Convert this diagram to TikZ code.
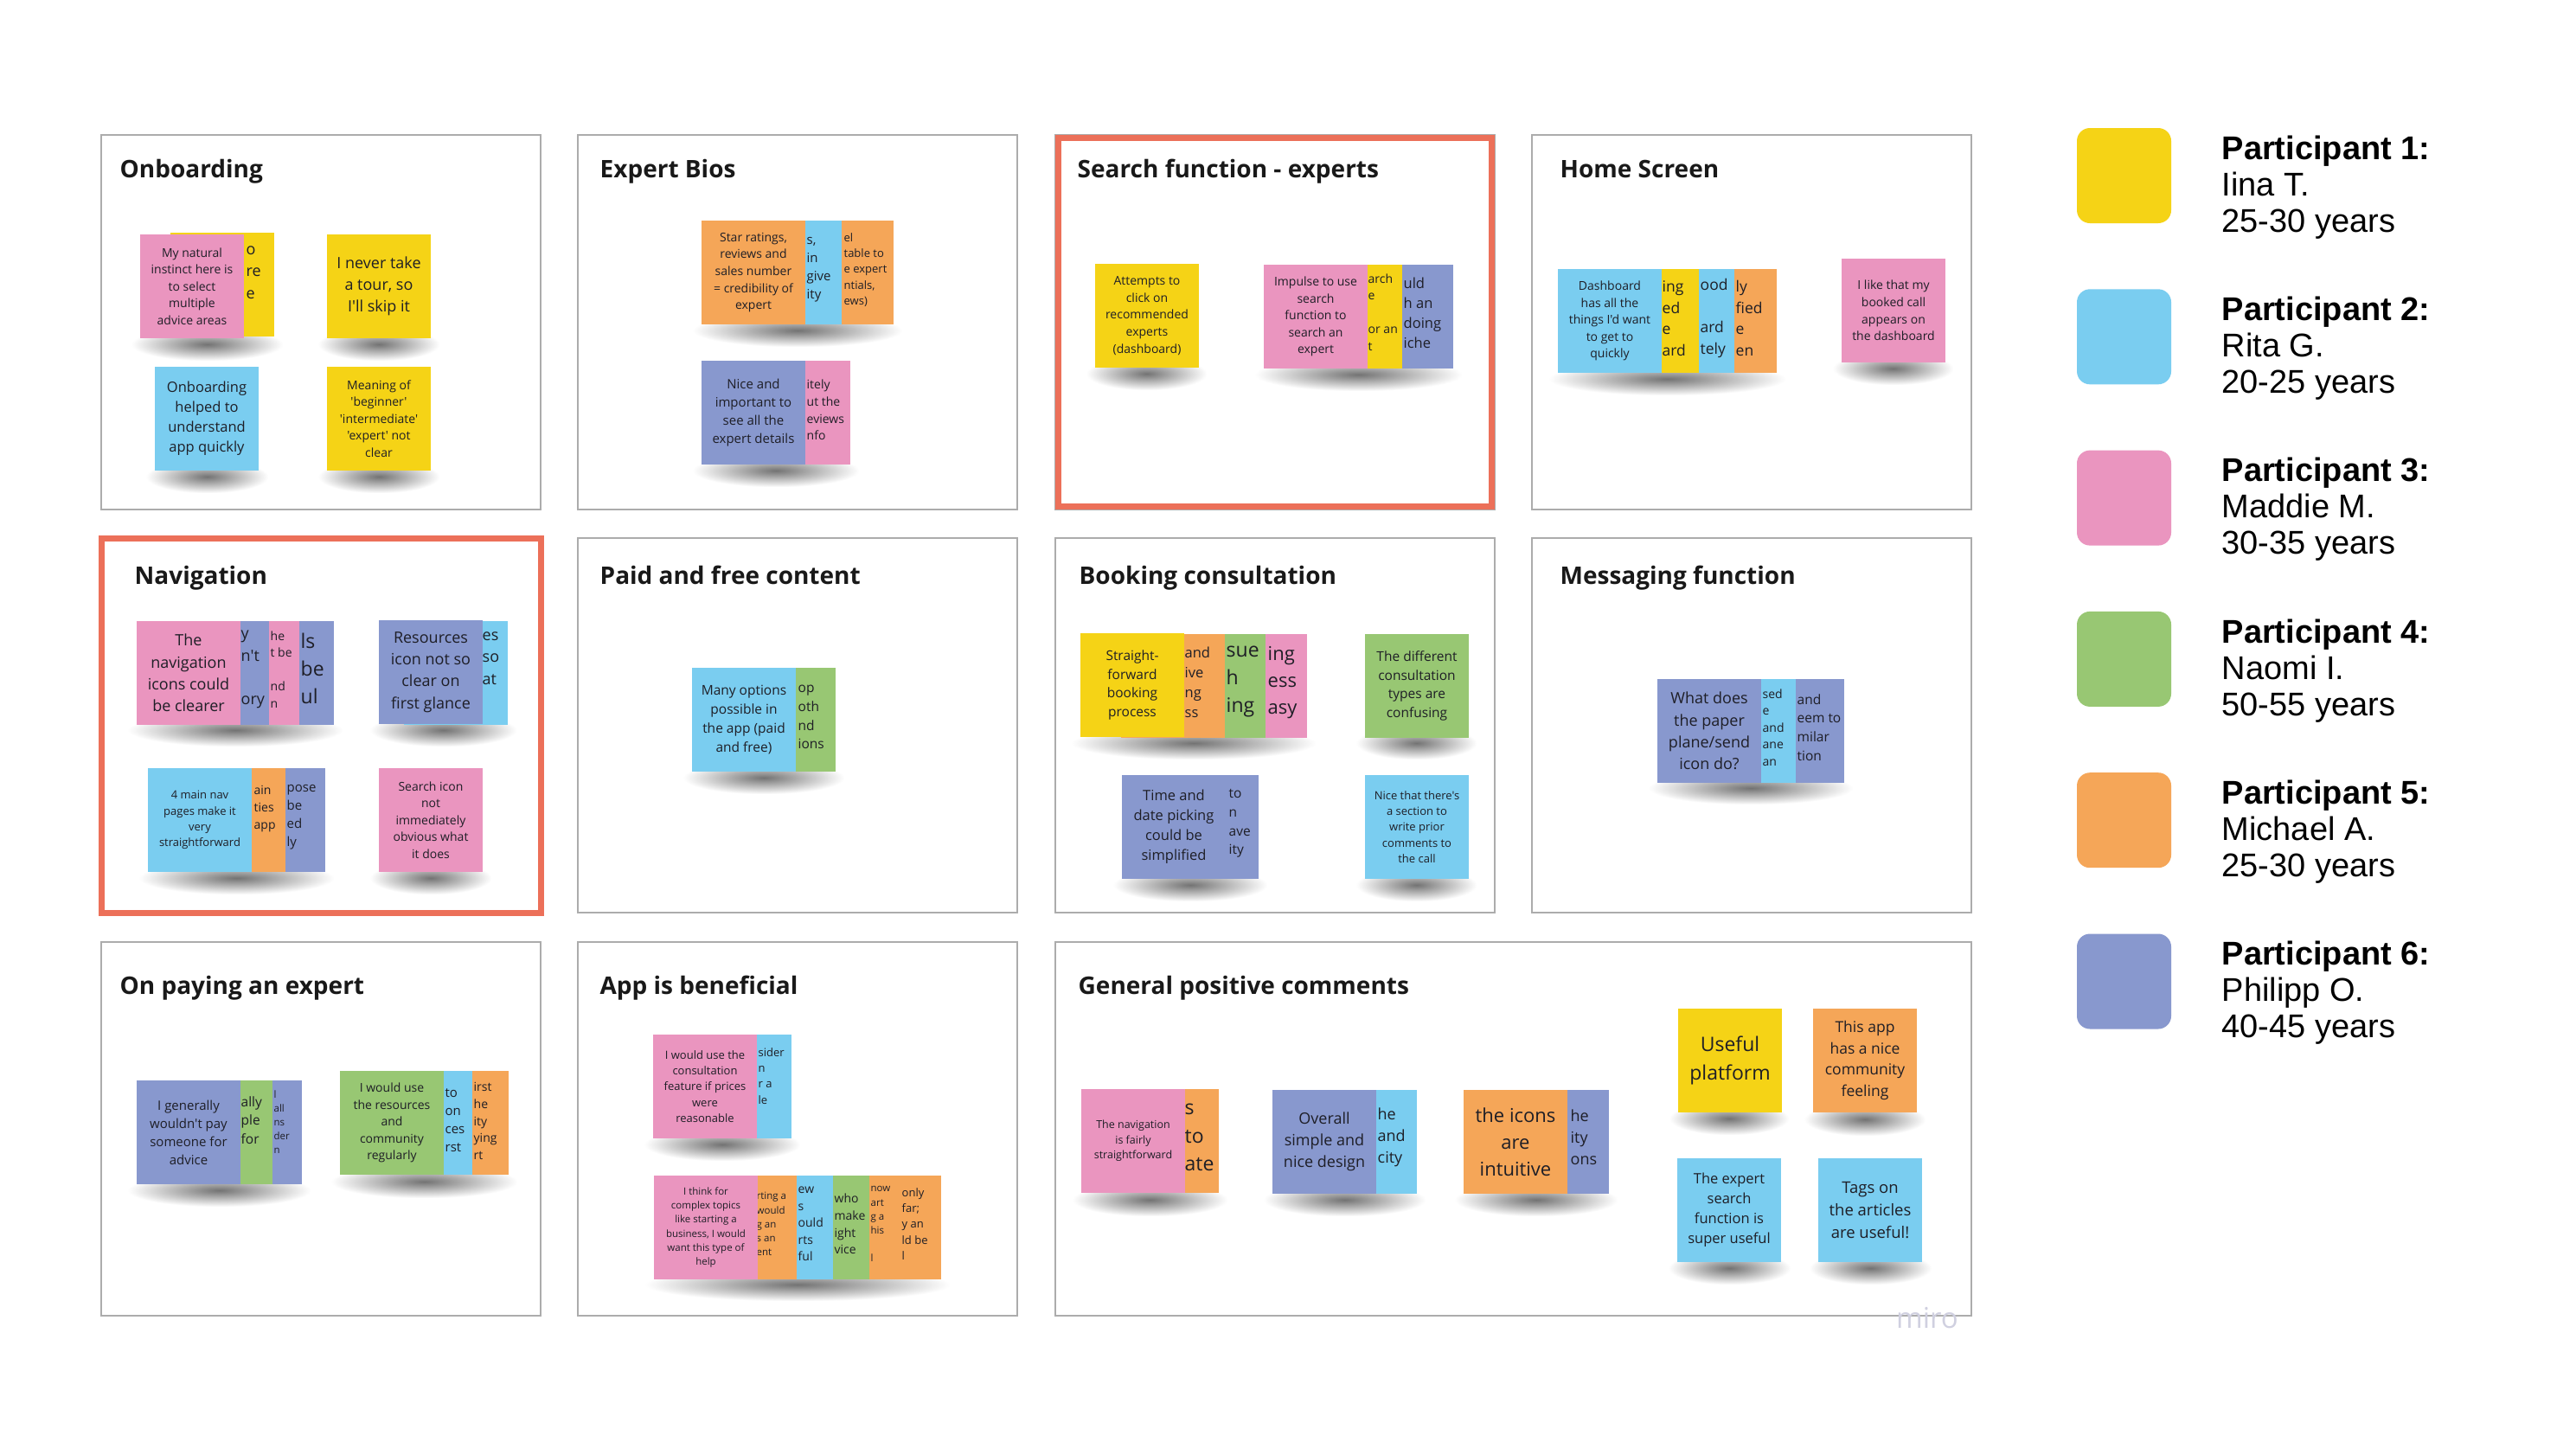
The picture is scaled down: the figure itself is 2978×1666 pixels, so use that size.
\documentclass[tikz,border=0pt]{standalone}
\usepackage{fontspec}
\setmainfont{Open Sans}[Ligatures=TeXOff]
\newfontfamily\legfont{Liberation Sans}
\usetikzlibrary{fadings}
\definecolor{cyel}{RGB}{245,211,22}
\definecolor{cblu}{RGB}{122,205,240}
\definecolor{cpnk}{RGB}{234,149,191}
\definecolor{cgrn}{RGB}{152,199,115}
\definecolor{corg}{RGB}{245,166,88}
\definecolor{cpur}{RGB}{136,152,206}
\definecolor{cred}{RGB}{236,112,89}
\definecolor{cgry}{RGB}{172,172,172}
\definecolor{ctxt}{RGB}{30,30,38}
\definecolor{cmiro}{RGB}{208,208,224}
\tikzfading[name=shfade, inner color=transparent!0, outer color=transparent!100]
\newcommand\fsz[1]{\pgfmathsetmacro\fszA{#1*0.3}\pgfmathsetmacro\fszB{#1*0.42}\fontsize{\fszA}{\fszB}\selectfont}
\tikzset{
  panel/.style={draw=cgry, line width=0.6pt},
  hilite/.style={draw=cred, line width=2.1pt},
  ptitle/.style={anchor=base west, inner sep=0pt, font=\bfseries\fsz{28}, text=black!90},
  note/.style={rectangle, inner sep=0pt, minimum width=36pt, minimum height=36pt, align=center, text=ctxt},
  frag/.style={inner sep=0pt, anchor=west, align=left, text=ctxt},
  nshadow/.style={fill=black, opacity=0.55, path fading=shfade},
  swatch/.style={rectangle, rounded corners=4.5pt, minimum width=32.7pt, minimum height=33pt, inner sep=0pt},
  legtext/.style={anchor=west, inner sep=0pt, align=left, text=black, font=\legfont\fontsize{11.4}{12.6}\selectfont},
  wmark/.style={inner sep=0pt, text=cmiro, font=\fsz{33}}
}
\newcommand\stk[6]{\node[note,fill=#2,font=\fsz{#5}] (#1) at ({#3+60},{#4+60}) {#6};}
\newcommand\frg[5]{\node[frag,font=\fsz{#4}] (#1) at (#2,#3) {#5};}
\newcommand\shd[3]{\fill[nshadow] ({#1-10},{#3-12}) rectangle ({#2+10},{#3+26});}
\begin{document}
\begin{tikzpicture}[x=0.3pt,y=-0.3pt]
\useasboundingbox (0,0) rectangle (2978,1666);
\fill[white] (0,0) rectangle (2978,1666);
% panels
\draw[panel] (117,156) rectangle (625,589);
\draw[panel] (668,156) rectangle (1176,589);
\draw[panel] (1220,156) rectangle (1728,589);
\draw[panel] (1771,156) rectangle (2279,589);
\draw[panel] (117,622) rectangle (625,1055);
\draw[panel] (668,622) rectangle (1176,1055);
\draw[panel] (1220,622) rectangle (1728,1055);
\draw[panel] (1771,622) rectangle (2279,1055);
\draw[panel] (117,1089) rectangle (625,1521);
\draw[panel] (668,1089) rectangle (1176,1521);
\draw[panel] (1220,1089) rectangle (2279,1521);
\draw[hilite] (1223.5,159.5) rectangle (1724.5,585.5);
\draw[hilite] (117,622) rectangle (625,1055);
% titles
\node[ptitle] (t1) at (138,205) {Onboarding};
\node[ptitle] (t2) at (693,205) {Expert Bios};
\node[ptitle] (t3) at (1245,205) {Search function - experts};
\node[ptitle] (t4) at (1803,205) {Home Screen};
\node[ptitle] (t5) at (155,675) {Navigation};
\node[ptitle] (t6) at (693,675) {Paid and free content};
\node[ptitle] (t7) at (1247,675) {Booking consultation};
\node[ptitle] (t8) at (1803,675) {Messaging function};
\node[ptitle] (t9) at (138,1149) {On paying an expert};
\node[ptitle] (t10) at (693,1149) {App is beneficial};
\node[ptitle] (t11) at (1246,1149) {General positive comments};
% shadows
\shd{162}{317}{391}\shd{378}{498}{391}\shd{179}{300}{544}\shd{378}{498}{544}
\shd{811}{1033}{375}\shd{811}{983}{537}
\shd{1266}{1385}{425}\shd{1461}{1680}{426}
\shd{1801}{2054}{431}\shd{2129}{2248}{419}
\shd{158}{386}{837}\shd{438}{587}{837}\shd{171}{376}{1008}\shd{438}{558}{1008}
\shd{800}{966}{892}
\shd{1249}{1511}{852}\shd{1578}{1697}{852}\shd{1297}{1455}{1016}\shd{1578}{1697}{1016}
\shd{1916}{2132}{904}
\shd{158}{349}{1369}\shd{393}{588}{1359}
\shd{755}{915}{1316}\shd{756}{1088}{1478}
\shd{1250}{1409}{1380}\shd{1471}{1638}{1380}\shd{1692}{1860}{1380}
\shd{1940}{2058}{1286}\shd{2096}{2216}{1287}\shd{1939}{2060}{1459}\shd{2102}{2223}{1459}
% Onboarding
\stk{o1b}{cyel}{197}{269}{18}{}
\frg{o1bt}{284}{315}{18}{o\\re\\e}
\stk{o1}{cpnk}{162}{271}{14}{My natural\\instinct here is\\to select\\multiple\\advice areas}
\stk{o2}{cyel}{378}{271}{18}{I never take\\a tour, so\\I'll skip it}
\stk{o3}{cblu}{179}{424}{16.5}{Onboarding\\helped to\\understand\\app quickly}
\stk{o4}{cyel}{378}{424}{14}{Meaning of\\'beginner'\\'intermediate'\\'expert' not\\clear}
% Expert Bios
\stk{e1c}{corg}{913}{255}{13}{}
\frg{e1ct}{975}{312}{13}{el\\table to\\e expert\\ntials,\\ews)}
\stk{e1b}{cblu}{853}{255}{15}{}
\frg{e1bt}{932}{312}{15}{s,\\in\\give\\ity}
\stk{e1}{corg}{811}{255}{14}{Star ratings,\\reviews and\\sales number\\= credibility of\\expert}
\stk{e2b}{cpnk}{863}{417}{14}{}
\frg{e2bt}{932}{474}{14}{itely\\ut the\\eviews\\nfo}
\stk{e2}{cpur}{811}{417}{15}{Nice and\\important to\\see all the\\expert details}
% Search
\stk{s1}{cyel}{1266}{305}{14}{Attempts to\\click on\\recommended\\experts\\(dashboard)}
\stk{s2c}{cpur}{1560}{306}{16.5}{}
\frg{s2ct}{1622}{362}{16.5}{uld\\h an\\doing\\iche}
\stk{s2b}{cyel}{1501}{306}{14}{}
\frg{s2bt}{1581}{361}{14}{arch\\e\\~\\or an\\t}
\stk{s2}{cpnk}{1461}{306}{14}{Impulse to use\\search\\function to\\search an\\expert}
% Home
\stk{h1d}{corg}{1934}{311}{17.5}{}
\frg{h1dt}{2006}{368}{17.5}{ly\\fied\\e\\en}
\stk{h1c}{cblu}{1885}{311}{17.5}{}
\frg{h1ct}{1965}{368}{17.5}{ood\\~\\ard\\tely}
\stk{h1b}{cyel}{1844}{311}{17.5}{}
\frg{h1bt}{1921}{368}{17.5}{ing\\ed\\e\\ard}
\stk{h1}{cblu}{1801}{311}{14}{Dashboard\\has all the\\things I'd want\\to get to\\quickly}
\stk{h2}{cpnk}{2129}{299}{14}{I like that my\\booked call\\appears on\\the dashboard}
% Navigation
\stk{n1d}{cpur}{266}{718}{23}{}
\frg{n1dt}{347}{773}{23}{ls\\be\\ul}
\stk{n1c}{cpnk}{226}{718}{14}{}
\frg{n1ct}{312}{774}{14}{he\\t be\\~\\nd\\n}
\stk{n1b}{cpur}{191}{718}{18}{}
\frg{n1bt}{278}{774}{18}{y\\n't\\~\\ory}
\stk{n1}{cpnk}{158}{718}{18}{The\\navigation\\icons could\\be clearer}
\stk{n2b}{cblu}{467}{718}{18}{}
\frg{n2bt}{557}{761}{18}{es\\so\\at}
\stk{n2}{cpur}{438}{717}{18}{Resources\\icon not so\\clear on\\first glance}
\stk{n3c}{cpur}{256}{888}{15}{}
\frg{n3ct}{331}{945}{15}{pose\\be\\ed\\ly}
\stk{n3b}{corg}{210}{888}{14}{}
\frg{n3bt}{293}{935}{14}{ain\\ties\\app}
\stk{n3}{cblu}{171}{888}{13}{4 main nav\\pages make it\\very\\straightforward}
\stk{n4}{cpnk}{438}{888}{14}{Search icon\\not\\immediately\\obvious what\\it does}
% Paid and free
\stk{p1b}{cgrn}{846}{772}{15.5}{}
\frg{p1bt}{922}{829}{15.5}{op\\oth\\nd\\ions}
\stk{p1}{cblu}{800}{772}{15.5}{Many options\\possible in\\the app (paid\\and free)}
% Booking
\stk{b1d}{cpnk}{1391}{733}{22}{}
\frg{b1dt}{1465}{789}{22}{ing\\ess\\asy}
\stk{b1c}{cgrn}{1343}{733}{23}{}
\frg{b1ct}{1417}{788}{23}{sue\\h\\ing}
\stk{b1b}{corg}{1296}{733}{16.5}{}
\frg{b1bt}{1369}{789}{16.5}{and\\ive\\ng\\ss}
\stk{b1}{cyel}{1249}{732}{15.5}{Straight-\\forward\\booking\\process}
\stk{b2}{cgrn}{1578}{733}{15.5}{The different\\consultation\\types are\\confusing}
\stk{b3b}{cpur}{1335}{896}{15.5}{}
\frg{b3bt}{1420}{952}{15.5}{to\\n\\ave\\ity}
\stk{b3}{cpur}{1297}{896}{16.5}{Time and\\date picking\\could be\\simplified}
\stk{b4}{cblu}{1578}{896}{13}{Nice that there's\\a section to\\write prior\\comments to\\the call}
% Messaging
\stk{m1c}{cpur}{2012}{785}{15.5}{}
\frg{m1ct}{2077}{841}{15.5}{and\\eem to\\milar\\tion}
\stk{m1b}{cblu}{1956}{785}{14}{}
\frg{m1bt}{2037}{841}{14}{sed\\e\\and\\ane\\an}
\stk{m1}{cpur}{1916}{785}{18}{What does\\the paper\\plane/send\\icon do?}
% On paying
\stk{y1c}{cpur}{229}{1249}{11.5}{}
\frg{y1ct}{316}{1297}{11.5}{l\\all\\ns\\der\\n}
\stk{y1b}{cgrn}{195}{1249}{15.5}{}
\frg{y1bt}{278}{1295}{15.5}{ally\\ple\\for}
\stk{y1}{cpur}{158}{1249}{15}{I generally\\wouldn't pay\\someone for\\advice}
\stk{y2c}{corg}{468}{1238}{14}{}
\frg{y2ct}{547}{1296}{14}{irst\\he\\ity\\ying\\rt}
\stk{y2b}{cblu}{426}{1238}{15}{}
\frg{y2bt}{514}{1295}{15}{to\\on\\ces\\rst}
\stk{y2}{cgrn}{393}{1238}{14}{I would use\\the resources\\and\\community\\regularly}
% App is beneficial
\stk{a1b}{cblu}{795}{1196}{13}{}
\frg{a1bt}{876}{1244}{13}{sider\\n\\r a\\le}
\stk{a1}{cpnk}{755}{1196}{13}{I would use the\\consultation\\feature if prices\\were\\reasonable}
\stk{a2f}{corg}{968}{1359}{13}{}
\frg{a2ft}{1042}{1415}{13}{only\\far;\\y an\\ld be\\l}
\stk{a2e}{corg}{921}{1359}{11.5}{}
\frg{a2et}{1006}{1415}{11.5}{now\\art\\g a\\his\\~\\l}
\stk{a2d}{cgrn}{885}{1359}{14}{}
\frg{a2dt}{964}{1415}{14}{who\\make\\ight\\vice}
\stk{a2c}{cblu}{843}{1359}{14}{}
\frg{a2ct}{922}{1415}{14}{ew\\s\\ould\\rts\\ful}
\stk{a2b}{corg}{801}{1359}{11.5}{}
\frg{a2bt}{874}{1415}{11.5}{rting a\\would\\g an\\s an\\ent}
\stk{a2}{cpnk}{756}{1359}{11.5}{I think for\\complex topics\\like starting a\\business, I would\\want this type of\\help}
% General positive comments
\stk{g1b}{corg}{1289}{1259}{23}{}
\frg{g1bt}{1369}{1315}{23}{s\\to\\ate}
\stk{g1}{cpnk}{1250}{1259}{12.5}{The navigation\\is fairly\\straightforward}
\stk{g2b}{cblu}{1518}{1260}{18}{}
\frg{g2bt}{1592}{1315}{18}{he\\and\\city}
\stk{g2}{cpur}{1471}{1260}{18}{Overall\\simple and\\nice design}
\stk{g3b}{cpur}{1740}{1260}{18}{}
\frg{g3bt}{1815}{1315}{18}{he\\ity\\ons}
\stk{g3}{corg}{1692}{1260}{22}{the icons\\are\\intuitive}
\stk{g4}{cyel}{1940}{1166}{23}{Useful\\platform}
\stk{g5}{corg}{2096}{1166}{17.5}{This app\\has a nice\\community\\feeling}
\stk{g6}{cblu}{1939}{1339}{16.5}{The expert\\search\\function is\\super useful}
\stk{g7}{cblu}{2102}{1339}{18.5}{Tags on\\the articles\\are useful!}
\node[wmark] (miro) at (2228,1524) {miro};
% legend
\node[swatch, fill=cyel] (sw1) at (2455.5,203) {};
\node[swatch, fill=cblu] (sw2) at (2455.5,389.3) {};
\node[swatch, fill=cpnk] (sw3) at (2455.5,575.6) {};
\node[swatch, fill=cgrn] (sw4) at (2455.5,761.9) {};
\node[swatch, fill=corg] (sw5) at (2455.5,948.2) {};
\node[swatch, fill=cpur] (sw6) at (2455.5,1134.5) {};
\node[legtext] (lt1) at (2568,216.5) {\textbf{Participant 1:}\\Iina T.\\25-30 years};
\node[legtext] (lt2) at (2568,402.8) {\textbf{Participant 2:}\\Rita G.\\20-25 years};
\node[legtext] (lt3) at (2568,589.1) {\textbf{Participant 3:}\\Maddie M.\\30-35 years};
\node[legtext] (lt4) at (2568,775.4) {\textbf{Participant 4:}\\Naomi I.\\50-55 years};
\node[legtext] (lt5) at (2568,961.7) {\textbf{Participant 5:}\\Michael A.\\25-30 years};
\node[legtext] (lt6) at (2568,1148) {\textbf{Participant 6:}\\Philipp O.\\40-45 years};
\end{tikzpicture}
\end{document}
